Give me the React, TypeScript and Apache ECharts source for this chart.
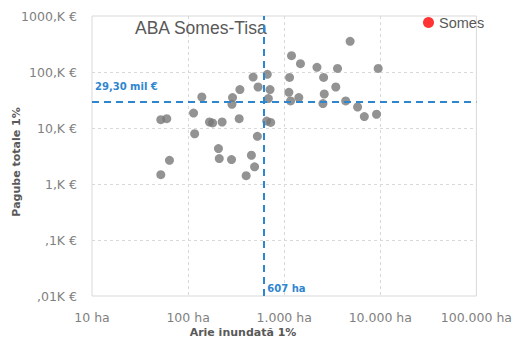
import React, { useEffect, useRef } from "react";
import * as echarts from "echarts";

const title = "ABA Somes-Tisa";
const xAxisName = "Arie inundată 1%";
const yAxisName = "Pagube totale 1%";
const xTickLabels = ["10 ha", "100 ha", "1.000 ha", "10.000 ha", "100.000 ha"];
const yTickLabels = [",01K €", ",1K €", "1,K €", "10,K €", "100,K €", "1000,K €"];
const legendName = "Somes";

// flooded area (ha) and total damages (thousand €) for each basin
const areaHa = [
  52, 60, 64, 52, 114, 117, 139, 167, 180, 226, 207, 211, 283, 290, 286, 346,
  340, 475, 535, 526, 456, 492, 402, 667, 712, 684, 658, 724, 1192, 1477, 2193,
  3589, 9510, 4853, 1137, 2572, 1119, 2612, 3443, 1165, 1419, 2530, 4366, 5808,
  6823, 9141,
];
const damageK = [
  14.1, 14.7, 2.65, 1.47, 18.5, 7.9, 35.8, 12.8, 12.3, 12.8, 4.3, 2.84, 2.73,
  34.9, 26.5, 48.5, 14.7, 81, 54, 7.1, 3.26, 2.03, 1.41, 91, 48.5, 33.5, 13.3,
  12.6, 196, 141, 121, 116, 116, 353, 80, 80, 43.4, 40.5, 54, 30.4, 34.9, 27.3,
  30.4, 23.7, 16, 17.6,
];
const thresholdArea = 607;
const thresholdDamage = 29.3;
const thresholdAreaLabel = "607 ha";
const thresholdDamageLabel = "29,30 mil €";

const BLUE = "#2e86d0";
const GRAY_TEXT = "#595959";

export default function App() {
  const ref = useRef<HTMLDivElement>(null);
  useEffect(() => {
    if (!ref.current) return;
    const chart = echarts.init(ref.current, undefined, { renderer: "svg" });
    const points = areaHa.map((a, i) => [a, damageK[i]]);
    chart.setOption({
      animation: false,
      backgroundColor: "#ffffff",
      textStyle: { fontFamily: "DejaVu Sans" },
      grid: {
        left: 92,
        right: 36,
        top: 16,
        bottom: 43,
        show: true,
        borderColor: "#d9d9d9",
        borderWidth: 1,
      },
      legend: {
        data: [{ name: legendName, icon: "circle" }],
        left: 418,
        top: 10,
        itemWidth: 11,
        itemHeight: 11,
        itemGap: 5,
        textStyle: { color: GRAY_TEXT, fontSize: 14.5, fontFamily: "Liberation Sans" },
      },
      xAxis: {
        type: "log",
        logBase: 10,
        min: 10,
        max: 100000,
        axisLine: { show: false },
        axisTick: { show: false },
        axisLabel: {
          color: "#7f7f7f",
          fontSize: 12.5,
          margin: 15,
          formatter: (v: number) => xTickLabels[Math.round(Math.log10(v)) - 1] ?? "",
        },
        splitLine: {
          show: true,
          showMinLine: false,
          showMaxLine: false,
          lineStyle: { color: "#d9d9d9", type: [3, 3], width: 1 },
        },
      },
      yAxis: {
        type: "log",
        logBase: 10,
        min: 0.01,
        max: 1000,
        axisLine: { show: false },
        axisTick: { show: false },
        axisLabel: {
          color: "#7f7f7f",
          fontSize: 12.5,
          margin: 15,
          formatter: (v: number) => yTickLabels[Math.round(Math.log10(v)) + 2] ?? "",
        },
        splitLine: {
          show: true,
          showMinLine: false,
          showMaxLine: false,
          lineStyle: { color: "#d9d9d9", type: [3, 3], width: 1 },
        },
      },
      series: [
        {
          name: "Bazine",
          type: "scatter",
          data: points,
          symbolSize: 9,
          itemStyle: { color: "#787878" },
          z: 3,
          markLine: {
            silent: true,
            symbol: "none",
            lineStyle: { color: BLUE, type: [7, 5], width: 2 },
            label: { show: false },
            data: [{ xAxis: thresholdArea }, { yAxis: thresholdDamage }],
          },
          markPoint: {
            silent: true,
            symbolSize: 0,
            data: [
              {
                coord: [10, thresholdDamage],
                label: {
                  show: true,
                  formatter: thresholdDamageLabel,
                  position: "right",
                  distance: 0,
                  offset: [3, -15],
                  color: BLUE,
                  fontWeight: "bold",
                  fontSize: 10,
                },
              },
              {
                coord: [thresholdArea, 0.01],
                label: {
                  show: true,
                  formatter: thresholdAreaLabel,
                  position: "right",
                  distance: 0,
                  offset: [4, -8],
                  color: BLUE,
                  fontWeight: "bold",
                  fontSize: 10,
                },
              },
            ],
          },
        },
        {
          name: legendName,
          type: "scatter",
          data: [],
          itemStyle: { color: "#ff0000" },
        },
      ],
      graphic: [
        {
          type: "text",
          left: 135,
          top: 19,
          style: {
            text: title,
            fill: GRAY_TEXT,
            fontSize: 17.5,
            fontFamily: "Liberation Sans",
          },
          z: 1,
        },
        {
          type: "text",
          x: 243,
          y: 332,
          style: {
            text: xAxisName,
            fill: GRAY_TEXT,
            fontSize: 11,
            fontWeight: "bold",
            fontFamily: "DejaVu Sans",
            align: "center",
            verticalAlign: "middle",
          },
        },
        {
          type: "text",
          x: 16,
          y: 162,
          rotation: Math.PI / 2,
          style: {
            text: yAxisName,
            fill: GRAY_TEXT,
            fontSize: 11,
            fontWeight: "bold",
            fontFamily: "DejaVu Sans",
            align: "center",
            verticalAlign: "middle",
          },
        },
      ],
    });
    return () => chart.dispose();
  }, []);
  return <div ref={ref} style={{ width: 515, height: 339, position: "absolute", left: 0, top: 0 }} />;
}
